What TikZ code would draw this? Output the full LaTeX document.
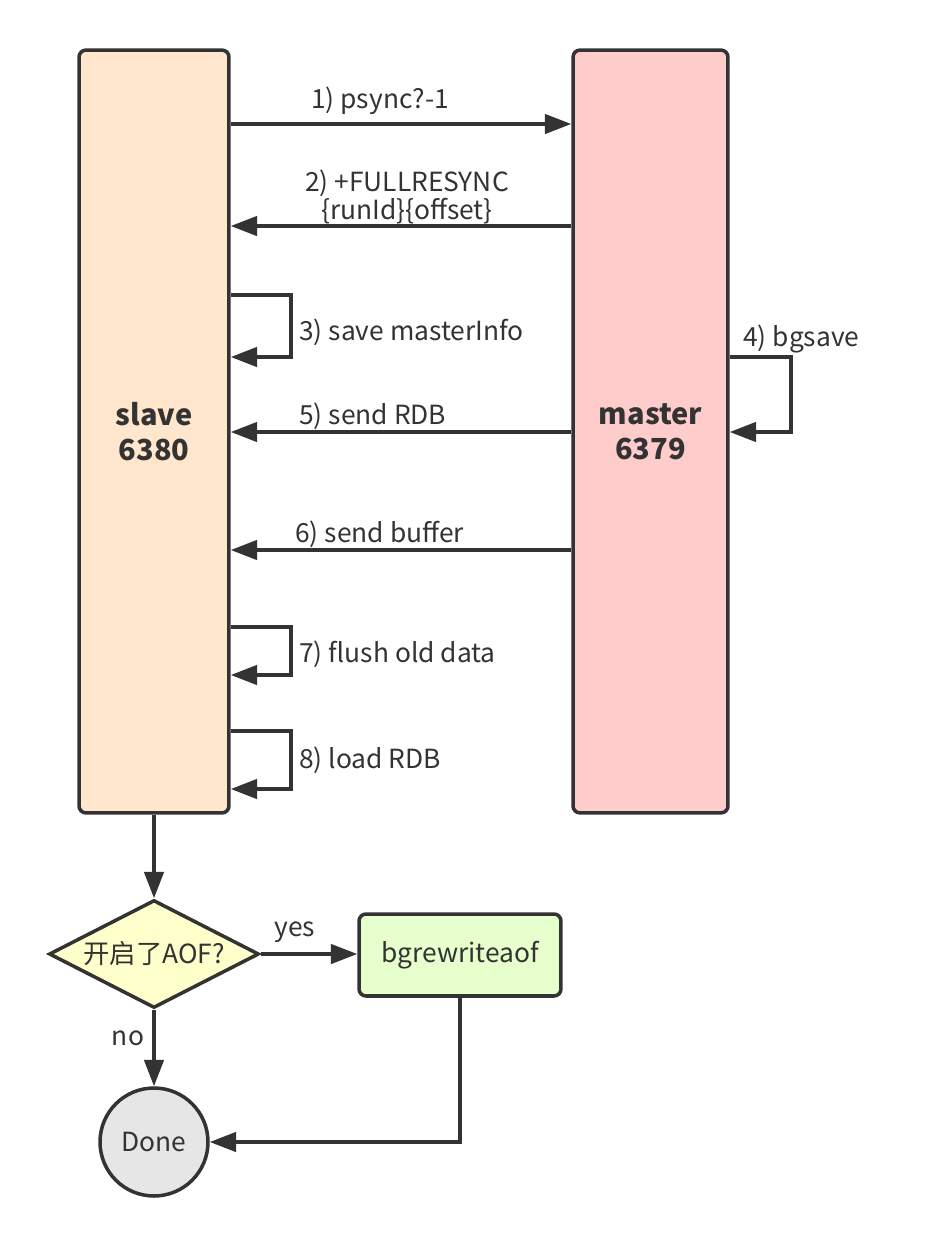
\documentclass[tikz,border=0pt]{standalone}
\usepackage{fontspec}
\setmainfont{Noto Sans CJK SC}
\usetikzlibrary{arrows.meta,shapes.geometric}

\definecolor{ink}{HTML}{333333}
\definecolor{slavefill}{HTML}{FFE6CC}
\definecolor{masterfill}{HTML}{FFCCCC}
\definecolor{askfill}{HTML}{FFFFCC}
\definecolor{rewritefill}{HTML}{E6FFCC}
\definecolor{donefill}{HTML}{E6E6E6}

\tikzset{
    lane/.style={draw=ink, line width=2pt, rounded corners=4pt, minimum width=3cm,
        minimum height=15.26cm, align=center, text=ink, font=\fontsize{16.5}{20}\selectfont\bfseries},
    msg/.style={-{Triangle[length=15pt,width=11pt]}, draw=ink, line width=2pt},
    lbl/.style={text=ink, font=\fontsize{15}{17}\selectfont, inner sep=0pt},
}

\begin{document}
\begin{tikzpicture}[x=0.02cm, y=-0.02cm]
    \useasboundingbox (0,0) rectangle (927,1245);

    % the two servers
    \node[lane, fill=slavefill] (slave) at (154,431.5) {slave\\6380};
    \node[lane, fill=masterfill, minimum width=3.1cm] (master) at (650.5,431.5) {master\\6379};

    % 1) and 2)
    \draw[msg] (slave.east |- 0,124) -- (master.west |- 0,124);
    \node[lbl] (psync) at (380,101) {1) psync?-1};
    \draw[msg] (master.west |- 0,226) -- (slave.east |- 0,226);
    \node[lbl, align=center] (fullsync) at (407,197) {2) +FULLRESYNC\\[-1pt]\{runId\}\{offset\}};

    % 3) and 4)
    \draw[msg] (slave.east |- 0,295) -- ++(60,0) -- ++(0,62) -- (slave.east |- 0,357);
    \node[lbl, anchor=west] (saveinfo) at (299,332) {3) save masterInfo};
    \draw[msg] (master.east |- 0,357) -- ++(61,0) -- ++(0,75) -- (master.east |- 0,432);
    \node[lbl, anchor=west] (bgsave) at (743,339) {4) bgsave};

    % 5) and 6)
    \draw[msg] (master.west |- 0,432) -- (slave.east |- 0,432);
    \node[lbl, anchor=west] (sendrdb) at (299,416) {5) send RDB};
    \draw[msg] (master.west |- 0,550) -- (slave.east |- 0,550);
    \node[lbl, anchor=west] (sendbuf) at (295,534) {6) send buffer};

    % 7) and 8)
    \draw[msg] (slave.east |- 0,627) -- ++(60,0) -- ++(0,48) -- (slave.east |- 0,675);
    \node[lbl, anchor=west] (flush) at (299,654) {7) flush old data};
    \draw[msg] (slave.east |- 0,731) -- ++(60,0) -- ++(0,58) -- (slave.east |- 0,789);
    \node[lbl, anchor=west] (loadrdb) at (299,760) {8) load RDB};

    % after the sync
    \node[diamond, aspect=1.94, draw=ink, line width=2pt, fill=askfill, text=ink, inner sep=0pt,
        minimum width=4.2cm, minimum height=2.16cm, font=\fontsize{15}{17}\selectfont] (aof) at (154,954) {开启了AOF?};
    \node[draw=ink, line width=2pt, fill=rewritefill, rounded corners=4pt, text=ink,
        minimum width=4.04cm, minimum height=1.64cm, font=\fontsize{15}{17}\selectfont] (rewrite) at (460,955) {bgrewriteaof};
    \node[circle, draw=ink, line width=2pt, fill=donefill, text=ink, minimum size=2.16cm,
        inner sep=0pt, font=\fontsize{15}{17}\selectfont] (done) at (154,1142) {Done};

    \draw[msg] (slave.south) -- (aof.north);
    \draw[msg] (aof.east) -- (aof.east -| rewrite.west);
    \node[lbl] (yes) at (295,932) {yes};
    \draw[msg] (aof.south) -- (done.north);
    \node[lbl] (no) at (128,1038) {no};
    \draw[msg] (rewrite.south) |- (done.east);
\end{tikzpicture}
\end{document}
